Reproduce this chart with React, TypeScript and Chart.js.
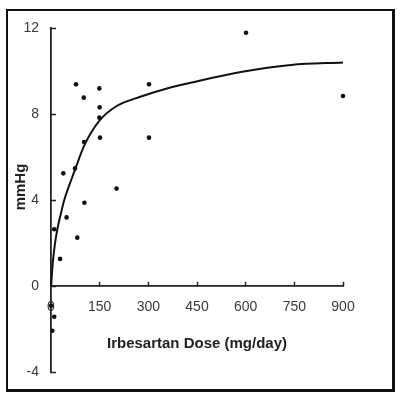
import React, { useEffect, useRef } from "react";
import { Chart, registerables } from "chart.js";

Chart.register(...registerables);

// Observed responses (dose in mg/day, change in mmHg)
const obsDose = [77, 149, 302, 101, 150, 149, 151, 302, 102, 38, 74, 202, 601, 900, 103, 48, 81, 28, 10, 0, 10, 4];
const obsChange = [9.38, 9.19, 9.38, 8.76, 8.31, 7.83, 6.9, 6.9, 6.7, 5.24, 5.47, 4.53, 11.78, 8.84, 3.87, 3.19, 2.25, 1.26, 2.64, -0.92, -1.43, -2.08];

// Fitted curve
const fitDose = [0, 6, 12, 21, 31, 40, 64, 75, 103, 150, 200, 275, 360, 430, 585, 740, 900];
const fitChange = [0, 1.15, 1.95, 2.75, 3.4, 3.95, 5.0, 5.45, 6.55, 7.7, 8.35, 8.8, 9.2, 9.45, 9.95, 10.28, 10.4];

const xTicks = [0, 150, 300, 450, 600, 750, 900];
const yTicks = [-4, 0, 4, 8, 12];
const xTitle = "Irbesartan Dose (mg/day)";
const yTitle = "mmHg";

const FONT = "'Liberation Sans', Arial, Helvetica, sans-serif";

export default function App() {
  const ref = useRef<HTMLCanvasElement>(null);

  useEffect(() => {
    if (!ref.current) return;

    const yTitlePlugin = {
      id: "yTitleText",
      afterDraw(chart: any) {
        const ctx = chart.ctx;
        const ys = chart.scales.y;
        ctx.save();
        ctx.translate(21, (ys.top + ys.bottom) / 2 - 13);
        ctx.rotate(-Math.PI / 2);
        ctx.font = `bold 15px ${FONT}`;
        ctx.fillStyle = "#222";
        ctx.textAlign = "center";
        ctx.textBaseline = "middle";
        ctx.fillText(yTitle, 0, 0);
        ctx.restore();
      },
    };

    const chart = new Chart(ref.current, {
      type: "scatter",
      data: {
        datasets: [
          {
            label: "Fitted",
            data: fitDose.map((x, i) => ({ x, y: fitChange[i] })),
            showLine: true,
            borderColor: "#111",
            backgroundColor: "#111",
            borderWidth: 2,
            pointRadius: 0,
            cubicInterpolationMode: "monotone",
            clip: false,
          } as any,
          {
            label: "Observed",
            data: obsDose.map((x, i) => ({ x, y: obsChange[i] })),
            showLine: false,
            borderColor: "#111",
            backgroundColor: "#111",
            pointRadius: 2.3,
            pointBorderWidth: 0,
            clip: false,
          } as any,
        ],
      },
      options: {
        responsive: false,
        animation: false,
        layout: { padding: { top: 28, right: 57, bottom: 26, left: 0 } },
        plugins: { legend: { display: false }, tooltip: { enabled: false } },
        scales: {
          x: {
            type: "linear",
            position: { y: 0 } as any,
            min: 0,
            max: 900,
            afterBuildTicks: (s: any) => {
              s.ticks = xTicks.map((v) => ({ value: v }));
            },
            grid: { drawOnChartArea: false, drawTicks: true, tickLength: -5, tickWidth: 1.5, tickColor: "#222" },
            border: { display: true, color: "#222", width: 1.8 },
            ticks: { padding: 18, color: "#3a3a3a", font: { family: FONT, size: 14 } },
            title: {
              display: true,
              text: xTitle,
              color: "#222",
              font: { family: FONT, size: 15, weight: "bold" },
              padding: { top: 1, bottom: 0 },
            },
          },
          y: {
            type: "linear",
            position: "left",
            min: -4,
            max: 12,
            afterBuildTicks: (s: any) => {
              s.ticks = yTicks.map((v) => ({ value: v }));
            },
            afterFit: (s: any) => {
              s.width = 51;
            },
            grid: { drawOnChartArea: false, drawTicks: true, tickLength: -5, tickWidth: 1.5, tickColor: "#222" },
            border: { display: true, color: "#222", width: 1.8 },
            ticks: { padding: 17, color: "#3a3a3a", font: { family: FONT, size: 14 } },
            title: { display: false },
          },
        },
      } as any,
      plugins: [yTitlePlugin],
    });

    return () => chart.destroy();
  }, []);

  return (
    <div style={{ position: "fixed", left: 0, top: 0, width: 400, height: 398, background: "#fff" }}>
      <div
        style={{
          position: "absolute",
          left: 6,
          top: 9,
          width: 389,
          height: 383,
          boxSizing: "border-box",
          borderLeft: "2px solid #111",
          borderTop: "2px solid #111",
          borderRight: "3px solid #111",
          borderBottom: "3px solid #111",
          pointerEvents: "none",
        }}
      />
      <canvas ref={ref} width={400} height={398} style={{ position: "absolute", left: 0, top: 0, width: 400, height: 398 }} />
    </div>
  );
}
